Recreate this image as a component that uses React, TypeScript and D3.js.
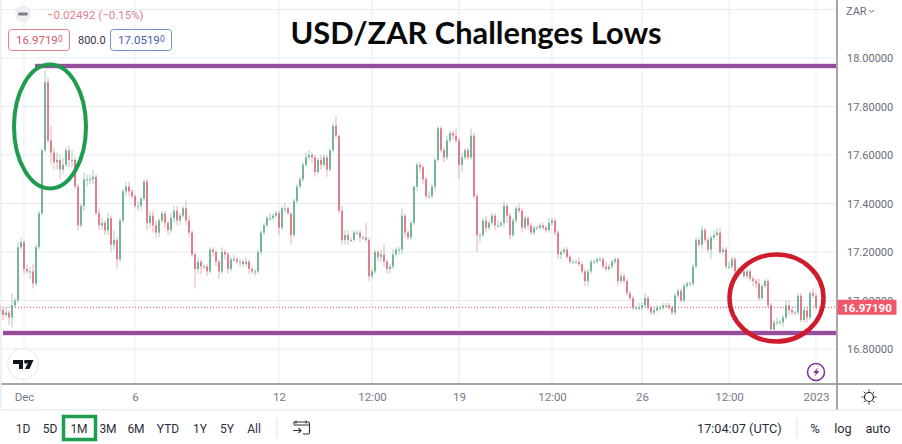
import { useRef, useEffect } from "react";
import * as d3 from "d3";

// Closing price of each bar
const closes = [
  16.96,16.94,16.95,16.93,16.98,17.0,17.22,17.24,17.13,17.12,
  17.12,17.07,17.22,17.36,17.62,17.9,17.66,17.61,17.57,17.58,
  17.54,17.56,17.62,17.58,17.58,17.47,17.31,17.39,17.5,17.5,
  17.5,17.51,17.36,17.31,17.32,17.29,17.34,17.23,17.25,17.17,
  17.33,17.45,17.47,17.45,17.43,17.39,17.39,17.42,17.49,17.32,
  17.35,17.31,17.28,17.33,17.36,17.32,17.29,17.34,17.37,17.33,
  17.35,17.38,17.33,17.28,17.19,17.13,17.16,17.14,17.14,17.12,
  17.21,17.2,17.16,17.12,17.2,17.19,17.13,17.17,17.17,17.16,
  17.16,17.15,17.16,17.13,17.12,17.12,17.2,17.28,17.31,17.34,
  17.34,17.35,17.36,17.3,17.38,17.38,17.36,17.27,17.41,17.47,
  17.5,17.56,17.59,17.6,17.59,17.53,17.58,17.56,17.59,17.54,
  17.62,17.72,17.68,17.37,17.25,17.27,17.25,17.25,17.28,17.28,
  17.26,17.26,17.25,17.1,17.12,17.2,17.18,17.19,17.16,17.13,
  17.14,17.19,17.21,17.21,17.35,17.28,17.26,17.32,17.47,17.56,
  17.55,17.5,17.43,17.43,17.47,17.58,17.71,17.62,17.59,17.66,
  17.69,17.68,17.66,17.56,17.59,17.62,17.59,17.68,17.43,17.27,
  17.27,17.33,17.3,17.32,17.35,17.31,17.31,17.32,17.39,17.35,
  17.27,17.33,17.38,17.37,17.3,17.34,17.31,17.28,17.3,17.3,
  17.31,17.3,17.29,17.32,17.33,17.28,17.19,17.2,17.21,17.18,
  17.16,17.16,17.16,17.15,17.12,17.08,17.12,17.16,17.16,17.17,
  17.17,17.14,17.13,17.14,17.16,17.17,17.08,17.1,17.08,17.03,
  17.01,16.97,16.97,16.97,16.98,17.01,16.97,16.95,16.96,16.97,
  16.97,16.98,16.98,16.97,16.95,17.02,17.04,17.0,17.06,17.07,
  17.07,17.14,17.25,17.23,17.29,17.25,17.21,17.26,17.27,17.28,
  17.2,17.21,17.14,17.14,17.17,17.12,17.12,17.12,17.1,17.12,
  17.09,17.08,17.07,17.01,17.06,17.08,16.98,16.88,16.91,16.91,
  16.91,16.93,16.98,16.96,16.95,16.95,17.02,16.92,16.96,16.93,
  17.03,17.02,16.9719,
];

// Wick length above the body, in hundredths
const upperWicks = [
  2,1,2,1,5,1,2,2,1,2, 2,3,1,1,1,5,2,6,2,3, 2,3,1,2,4,1,1,1,3,2,
  2,3,1,2,2,1,2,1,4,1, 1,1,2,2,1,1,2,1,1,1, 2,2,2,1,1,1,1,2,2,2,
  1,1,3,2,1,1,2,1,1,1, 1,1,1,1,2,1,1,1,2,1, 1,1,2,1,1,1,1,1,1,1,
  2,1,1,1,1,2,1,0,1,1, 1,1,2,2,1,1,1,2,1,1, 1,1,4,0,2,2,2,1,1,1,
  1,1,6,1,1,1,1,2,4,1, 1,2,1,1,3,1,1,1,0,1, 1,1,1,2,1,1,1,1,1,2,
  1,1,3,1,2,1,1,3,1,1, 1,1,2,1,1,1,2,1,2,1, 1,1,1,2,1,1,1,1,1,1,
  1,1,1,2,1,1,1,1,1,1, 1,1,1,2,1,1,1,1,1,1, 1,1,2,1,1,1,1,2,1,1,
  1,1,1,2,1,2,1,1,1,1, 1,1,1,1,1,1,1,1,1,1, 1,1,1,1,2,1,1,1,2,2,
  2,1,1,2,1,1,2,1,1,1, 1,1,1,2,1,1,1,1,1,2, 1,1,2,2,1,1,1,1,1,1,
  1,2,1,
];

// Wick length below the body, in hundredths
const lowerWicks = [
  2,2,1,3,4,1,1,1,2,1, 3,2,1,1,1,1,1,5,3,3, 4,2,1,3,3,1,2,1,2,3,
  2,2,1,2,2,2,2,3,2,4, 1,1,2,2,1,1,2,2,1,3, 2,3,2,2,1,2,2,1,2,2,
  2,1,2,2,1,8,2,3,1,2, 1,2,2,3,1,2,2,1,1,1, 2,1,1,2,1,2,1,1,1,1,
  1,1,1,3,1,2,1,4,1,1, 1,1,1,1,2,2,1,2,1,3, 1,1,1,1,2,2,2,1,1,1,
  2,1,1,2,1,1,2,2,2,2, 2,1,1,2,2,2,1,1,1,2, 2,2,1,1,1,2,1,1,2,1,
  1,2,1,6,3,1,1,1,1,7, 3,1,2,1,1,2,1,1,2,3, 2,1,1,1,2,1,2,1,1,1,
  1,1,1,1,1,1,2,2,1,1, 1,1,1,1,1,2,2,1,1,1, 1,1,1,1,1,1,2,1,1,1,
  1,1,1,1,1,1,1,1,1,1, 1,1,1,1,1,1,1,1,1,1, 1,1,1,1,2,1,1,4,1,1,
  1,1,1,1,1,1,2,1,1,1, 1,2,2,1,1,1,1,1,1,1, 1,2,1,2,1,1,1,1,1,2,
  1,1,1,1,1,1,2,1,1,2, 1,1,1,
];

const priceTicks = [18.2, 18, 17.8, 17.6, 17.4, 17.2, 17, 16.8];
const timeTickBars = [8, 45, 93, 124, 153, 184, 214, 243, 272];
const timeTickLabels = ["Dec", "6", "12", "12:00", "19", "12:00", "26", "12:00", "2023"];
const rangeButtons = ["1D", "5D", "1M", "3M", "6M", "YTD", "1Y", "5Y", "All"];
const rangeButtonX = [23, 50, 79, 108, 136, 168, 200, 227, 254];
const resistanceLevel = 17.967;
const supportLevel = 16.866;
const lastPrice = 16.9719;

const WIDTH = 902;
const HEIGHT = 444;
const PLOT_RIGHT = 837;
const PLOT_BOTTOM = 384;
const FONT = "Roboto, sans-serif";

export default function App() {
  const svgRef = useRef<SVGSVGElement>(null);

  useEffect(() => {
    document.body.style.margin = "0";
    if (!svgRef.current) return;
    const svg = d3.select(svgRef.current);
    svg.selectAll("*").remove();

    const x = d3.scaleLinear().domain([0, 279]).range([0, PLOT_RIGHT]);
    const y = d3.scaleLinear().domain([18, 16.8]).range([58, 349]);

    svg.append("rect").attr("width", WIDTH).attr("height", HEIGHT).attr("fill", "#ffffff");

    // Grid lines
    const grid = svg.append("g").attr("stroke", "#e6edf1");
    grid.selectAll("line.h").data(priceTicks).enter().append("line")
      .attr("x1", 1).attr("x2", PLOT_RIGHT)
      .attr("y1", (d) => y(d)).attr("y2", (d) => y(d));
    grid.selectAll("line.v").data(timeTickBars).enter().append("line")
      .attr("y1", 0).attr("y2", PLOT_BOTTOM)
      .attr("x1", (d) => x(d)).attr("x2", (d) => x(d));

    // Last price dotted line
    svg.append("line")
      .attr("x1", 0).attr("x2", PLOT_RIGHT)
      .attr("y1", y(lastPrice)).attr("y2", y(lastPrice))
      .attr("stroke", "#e04a5c").attr("stroke-dasharray", "1,2");

    // Candles
    const candles = closes.map((close, i) => {
      const open = i === 0 ? close : closes[i - 1];
      return {
        i, open, close,
        high: Math.max(open, close) + upperWicks[i] / 100,
        low: Math.min(open, close) - lowerWicks[i] / 100,
      };
    });
    const candleColor = (d: { open: number; close: number }) => (d.close >= d.open ? "#55a384" : "#d9626f");

    const bars = svg.selectAll(".candle").data(candles).enter().append("g").attr("class", "candle");
    bars.append("line")
      .attr("x1", (d) => x(d.i)).attr("x2", (d) => x(d.i))
      .attr("y1", (d) => y(d.high)).attr("y2", (d) => y(d.low))
      .attr("stroke", candleColor).attr("stroke-opacity", 0.5);
    bars.append("rect")
      .attr("x", (d) => x(d.i) - 0.75)
      .attr("width", 1.5)
      .attr("y", (d) => y(Math.max(d.open, d.close)))
      .attr("height", (d) => Math.max(1, Math.abs(y(d.open) - y(d.close))))
      .attr("fill", candleColor);

    // Drawn levels
    [resistanceLevel, supportLevel].forEach((level) => {
      svg.append("line")
        .attr("x1", level === supportLevel ? x(1) : x(11.7)).attr("x2", PLOT_RIGHT - 1)
        .attr("y1", y(level)).attr("y2", y(level))
        .attr("stroke", "#f0d8f0").attr("stroke-width", 6);
      svg.append("line")
        .attr("x1", level === supportLevel ? x(1) : x(11.7)).attr("x2", PLOT_RIGHT - 1)
        .attr("y1", y(level)).attr("y2", y(level))
        .attr("stroke", "#964d9c").attr("stroke-width", 4);
    });

    // Circled areas
    svg.append("ellipse")
      .attr("cx", 50).attr("cy", 126.5).attr("rx", 36).attr("ry", 62)
      .attr("fill", "none").attr("stroke", "#1f9d4f").attr("stroke-width", 4);
    svg.append("ellipse")
      .attr("cx", 776.5).attr("cy", 298).attr("rx", 47).attr("ry", 43.5)
      .attr("fill", "none").attr("stroke", "#cf1c2c").attr("stroke-width", 4.5);

    // Price axis
    const yAxis = svg.append("g")
      .attr("transform", `translate(${PLOT_RIGHT},0)`)
      .call(d3.axisRight(y).tickValues(priceTicks.filter((t) => t < 18.1)).tickSize(0).tickPadding(10).tickFormat((d) => (d as number).toFixed(5)));
    yAxis.select(".domain").remove();
    yAxis.selectAll("text").attr("fill", "#6a6d78").attr("font-size", "11px").attr("font-family", FONT);

    // Time axis
    const xAxis = svg.append("g")
      .attr("transform", `translate(0,${PLOT_BOTTOM})`)
      .call(d3.axisBottom(x).tickValues(timeTickBars).tickSize(0).tickPadding(9).tickFormat((_, i) => timeTickLabels[i]));
    xAxis.select(".domain").remove();
    xAxis.selectAll("text").attr("fill", "#777a85").attr("font-size", "11.5px").attr("font-family", FONT);

    // Frame
    svg.append("line").attr("x1", 1).attr("x2", WIDTH).attr("y1", PLOT_BOTTOM).attr("y2", PLOT_BOTTOM).attr("stroke", "#4a4a4a");
    svg.append("line").attr("x1", PLOT_RIGHT).attr("x2", PLOT_RIGHT).attr("y1", 0).attr("y2", 410).attr("stroke", "#8a8a8a").attr("stroke-width", 1.5);
    svg.append("line").attr("x1", 1).attr("x2", 1).attr("y1", 0).attr("y2", 410).attr("stroke", "#e0e3eb");
    svg.append("line").attr("x1", 0).attr("x2", WIDTH).attr("y1", 410).attr("y2", 410).attr("stroke", "#e0e3eb");

    // Last price tag
    svg.append("rect").attr("x", PLOT_RIGHT + 0.5).attr("y", y(lastPrice) - 7.5).attr("width", 59).attr("height", 15).attr("rx", 1).attr("fill", "#f0596b");
    svg.append("text").attr("x", 867).attr("y", y(lastPrice) + 4.2).attr("text-anchor", "middle")
      .attr("fill", "#fff").attr("font-size", "11.5px").attr("font-weight", 700).attr("font-family", FONT)
      .text(lastPrice.toFixed(5));

    const label = (tx: number, ty: number, s: string, fill: string, size: number, anchor = "middle") =>
      svg.append("text").attr("x", tx).attr("y", ty).attr("text-anchor", anchor)
        .attr("fill", fill).attr("font-size", `${size}px`).attr("font-family", FONT).text(s);

    // Title
    svg.append("text").attr("x", 476).attr("y", 44).attr("text-anchor", "middle")
      .attr("fill", "#0a0a0a").attr("font-size", "30.8px").attr("font-weight", 700).attr("font-family", "Lato, sans-serif")
      .text("USD/ZAR Challenges Lows");

    // Legend header
    svg.append("circle").attr("cx", 23).attr("cy", 14).attr("r", 8).attr("fill", "#eceef1");
    svg.append("rect").attr("x", 18).attr("y", 12.5).attr("width", 10).attr("height", 3).attr("rx", 1.5).attr("fill", "#7b7e88");
    label(47, 19, "\u22120.02492 (\u22120.15%)", "#e0808c", 11.5, "start");

    svg.append("rect").attr("x", 8.5).attr("y", 29.5).attr("width", 61).attr("height", 21).attr("rx", 3).attr("fill", "#fff").attr("stroke", "#dc7f8b");
    label(16, 44, "16.9719", "#d95868", 11.5, "start");
    label(58, 42, "0", "#d95868", 8.5, "start");
    label(78, 44, "800.0", "#33363f", 11, "start");
    svg.append("rect").attr("x", 110.5).attr("y", 29.5).attr("width", 61).attr("height", 21).attr("rx", 3).attr("fill", "#fff").attr("stroke", "#6f8fd0");
    label(118, 44, "17.0519", "#3b62b8", 11.5, "start");
    label(160, 42, "0", "#3b62b8", 8.5, "start");

    // Currency menu
    label(846, 15, "ZAR", "#6a6d78", 11, "start");
    svg.append("path").attr("d", "M869 10l2.5 2.5 2.5-2.5").attr("fill", "none").attr("stroke", "#6a6d78");

    // TradingView badge
    svg.append("circle").attr("cx", 23).attr("cy", 364).attr("r", 15.5).attr("fill", "#fff").attr("stroke", "#e4e7ec");
    svg.append("path").attr("d", "M13 360h10v9h-4v-5h-6zM24.5 360h9l-4 9h-4.5l3-6.5h-3.5z").attr("fill", "#131722");
    svg.append("circle").attr("cx", 26).attr("cy", 362).attr("r", 1.8).attr("fill", "#131722");

    // Lightning badge
    svg.append("circle").attr("cx", 816).attr("cy", 372).attr("r", 8.5).attr("fill", "#fff").attr("stroke", "#7e2b9e").attr("stroke-width", 1.5);
    svg.append("path").attr("d", "M818.5 367l-5.5 6h3l-2 4 5.5-6h-3z").attr("fill", "#7e2b9e");

    // Settings sun
    svg.append("circle").attr("cx", 869).attr("cy", 397).attr("r", 4.5).attr("fill", "none").attr("stroke", "#222").attr("stroke-width", 1.2);
    svg.append("path")
      .attr("d", "M869 389.5v2M869 402.5v2M861.5 397h2M874.5 397h2M863.7 391.7l1.4 1.4M872.9 400.9l1.4 1.4M863.7 402.3l1.4-1.4M872.9 393.1l1.4-1.4")
      .attr("stroke", "#222");

    // Range buttons
    rangeButtons.forEach((b, i) => label(rangeButtonX[i], 433, b, "#2a2e39", 12));
    svg.append("rect").attr("x", 63.5).attr("y", 416.5).attr("width", 32).attr("height", 23).attr("fill", "none").attr("stroke", "#1f9d4f").attr("stroke-width", 3.5);
    svg.append("line").attr("x1", 277).attr("x2", 277).attr("y1", 418).attr("y2", 438).attr("stroke", "#e0e3eb");

    // Date range icon
    svg.append("path")
      .attr("d", "M294 424.5v-2.5h14q1.5 0 1.5 1.5v9q0 1.5-1.5 1.5h-5M294 425h15M296 420.5v3M306 420.5v3M293 430.5h8M298.5 428l2.5 2.5-2.5 2.5")
      .attr("fill", "none").attr("stroke", "#333").attr("stroke-width", 1.1);

    // Bottom right
    label(697, 433, "17:04:07 (UTC)", "#2a2e39", 12.7, "start");
    svg.append("line").attr("x1", 797).attr("x2", 797).attr("y1", 418).attr("y2", 438).attr("stroke", "#e0e3eb");
    label(815, 433, "%", "#2a2e39", 13);
    label(843, 433, "log", "#2a2e39", 12.7);
    label(878, 433, "auto", "#2a2e39", 12.7);
  }, []);

  return <svg ref={svgRef} width={WIDTH} height={HEIGHT} style={{ display: "block" }} />;
}
